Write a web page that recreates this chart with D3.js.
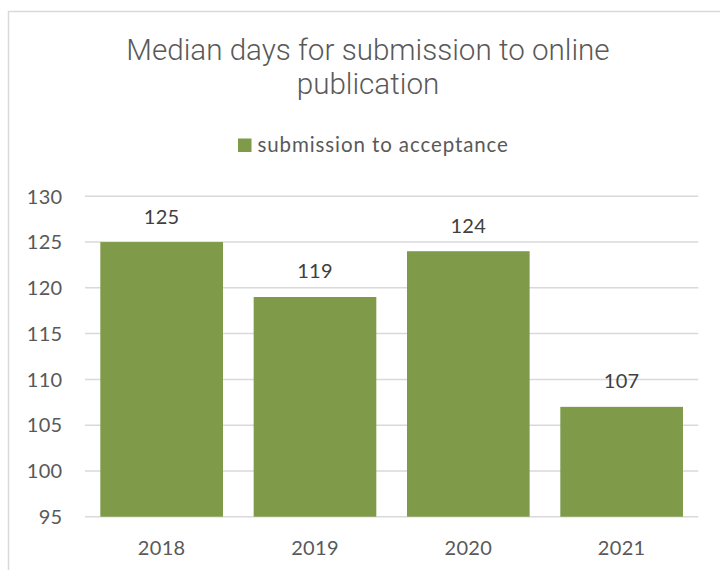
<!DOCTYPE html>
<html>
<head>
<meta charset="utf-8">
<script src="https://cdn.jsdelivr.net/npm/d3@7"></script>
<style>
  html, body { margin: 0; padding: 0; background: #ffffff; }
  svg { display: block; }
</style>
</head>
<body>
<svg id="chart" width="720" height="570"></svg>
<script>
// Chart data
const years = ["2018", "2019", "2020", "2021"];
const medianDays = [125, 119, 124, 107];
const yTicks = [95, 100, 105, 110, 115, 120, 125, 130];
const titleLines = ["Median days for submission to online", "publication"];
const seriesName = "submission to acceptance";

const barColor = "#7f9a48";
const gridColor = "#d9d9d9";
const axisText = "#595959";
const labelText = "#404040";

const svg = d3.select("#chart");

// Chart area frame (runs off the right and bottom edges)
svg.append("rect")
  .attr("x", 8.5).attr("y", 11.5)
  .attr("width", 730).attr("height", 580)
  .attr("fill", "#ffffff")
  .attr("stroke", gridColor)
  .attr("stroke-width", 1.5);

// Title
svg.append("g").selectAll("text")
  .data(titleLines)
  .join("text")
  .attr("x", 368)
  .attr("y", (d, i) => 60 + i * 34)
  .attr("text-anchor", "middle")
  .attr("font-family", "Roboto, sans-serif")
  .attr("font-weight", 300)
  .attr("font-size", 29.6)
  .attr("fill", axisText)
  .text(d => d);

// Legend
const legend = svg.append("g");
legend.append("rect")
  .attr("x", 238).attr("y", 138.5)
  .attr("width", 13.5).attr("height", 13.5)
  .attr("fill", barColor);
legend.append("text")
  .attr("x", 257.5).attr("y", 152)
  .attr("font-family", "Lato, 'Open Sans', sans-serif")
  .attr("font-size", 20.5)
  .attr("letter-spacing", 0.9)
  .attr("fill", axisText)
  .text(seriesName);

// Scales
const x = d3.scaleBand()
  .domain(years)
  .range([85, 698.3])
  .paddingInner(0.2)
  .paddingOuter(0.1);

const y = d3.scaleLinear()
  .domain([95, 130])
  .range([516.7, 196.3]);

// Horizontal gridlines
svg.append("g")
  .selectAll("line")
  .data(yTicks)
  .join("line")
  .attr("x1", 85).attr("x2", 698.3)
  .attr("y1", d => y(d)).attr("y2", d => y(d))
  .attr("stroke", gridColor)
  .attr("stroke-width", 1.5);

// Y axis labels
const yAxis = d3.axisLeft(y).tickValues(yTicks).tickSize(0).tickPadding(0);
svg.append("g")
  .attr("transform", "translate(62.5,0)")
  .call(yAxis)
  .call(g => g.select(".domain").remove())
  .call(g => g.selectAll("text")
    .attr("font-family", "Lato, 'Open Sans', sans-serif")
    .attr("font-size", 20)
    .attr("letter-spacing", 0.3)
    .attr("fill", axisText)
    .attr("dy", "0.34em"));

const rows = years.map((yr, i) => ({ year: yr, value: medianDays[i] }));

// Bars
svg.append("g")
  .selectAll("rect")
  .data(rows)
  .join("rect")
  .attr("x", d => x(d.year))
  .attr("y", d => y(d.value))
  .attr("width", x.bandwidth())
  .attr("height", d => y(95) - y(d.value))
  .attr("fill", barColor);

// Value labels above bars
svg.append("g")
  .selectAll("text")
  .data(rows)
  .join("text")
  .attr("x", d => x(d.year) + x.bandwidth() / 2)
  .attr("y", d => y(d.value) - 18.5)
  .attr("text-anchor", "middle")
  .attr("font-family", "Lato, 'Open Sans', sans-serif")
  .attr("font-size", 20)
  .attr("letter-spacing", 0.3)
  .attr("fill", labelText)
  .text(d => d.value);

// X axis labels
const xAxis = d3.axisBottom(x).tickSize(0).tickPadding(0);
svg.append("g")
  .call(xAxis)
  .call(g => g.select(".domain").remove())
  .call(g => g.selectAll("text")
    .attr("y", 555)
    .attr("dy", 0)
    .attr("font-family", "Lato, 'Open Sans', sans-serif")
    .attr("font-size", 20)
    .attr("letter-spacing", 0.3)
    .attr("fill", axisText));
</script>
</body>
</html>
